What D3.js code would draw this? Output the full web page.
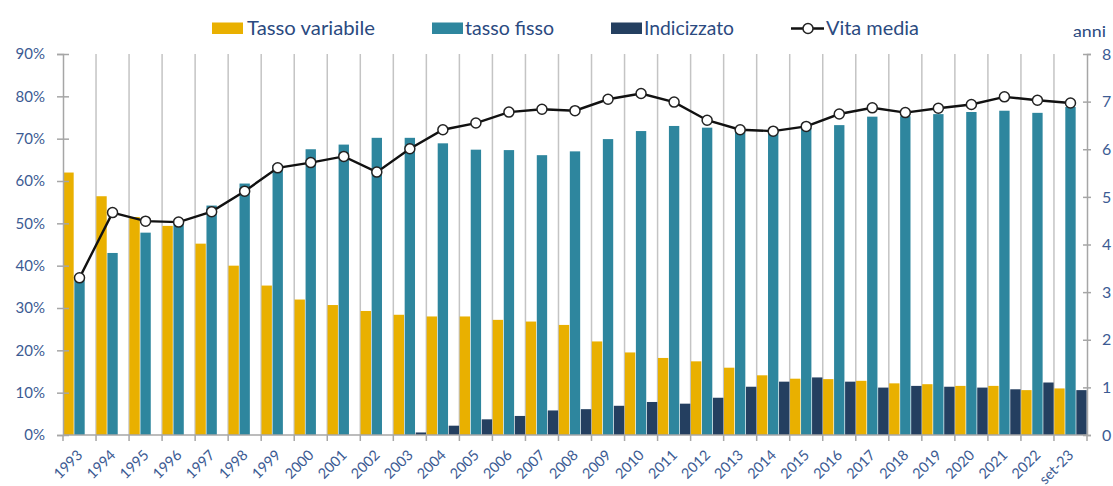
<!DOCTYPE html>
<html><head><meta charset="utf-8">
<script src="https://cdn.jsdelivr.net/npm/d3@7/dist/d3.min.js"></script>
<style>
body{margin:0;background:#fff;}
svg text{font-family:Lato,"Open Sans","DejaVu Sans",sans-serif;}
</style>
</head><body>
<svg id="chart" width="1113" height="486"></svg>
<script>
const categories = ["1993","1994","1995","1996","1997","1998","1999","2000","2001","2002","2003","2004","2005","2006","2007","2008","2009","2010","2011","2012","2013","2014","2015","2016","2017","2018","2019","2020","2021","2022","set-23"];
const tassoVariabile = [62.0,56.4,51.5,49.4,45.2,40.0,35.3,32.0,30.7,29.3,28.4,28.0,28.0,27.2,26.8,26.0,22.1,19.5,18.2,17.4,15.9,14.1,13.3,13.2,12.8,12.2,12.0,11.6,11.6,10.6,11.0];
const tassoFisso = [37.3,43.0,47.8,50.0,54.2,59.4,63.8,67.5,68.6,70.2,70.2,68.9,67.4,67.3,66.1,67.0,69.9,71.8,73.0,72.6,72.0,71.6,72.5,73.2,75.2,75.3,75.8,76.3,76.6,76.1,77.5];
const indicizzato = [0,0,0,0,0,0,0,0,0,0,0.6,2.2,3.7,4.5,5.8,6.1,6.9,7.8,7.4,8.8,11.4,12.6,13.6,12.6,11.2,11.6,11.4,11.2,10.8,12.4,10.6];
const vitaMedia = [3.3,4.67,4.49,4.47,4.69,5.12,5.61,5.72,5.85,5.52,6.01,6.41,6.55,6.78,6.84,6.81,7.05,7.17,6.99,6.61,6.41,6.38,6.48,6.74,6.87,6.77,6.86,6.94,7.10,7.03,6.97];
const leftTicks = [0,10,20,30,40,50,60,70,80,90];
const rightTicks = [0,1,2,3,4,5,6,7,8];
const seriesNames = ["Tasso variabile","tasso fisso","Indicizzato"];
const lineName = "Vita media";
const rightUnit = "anni";

const colors = {"Tasso variabile":"#E9B000","tasso fisso":"#2E869E","Indicizzato":"#243F60"};
const labelColor = "#3c5b93";
const legendColor = "#2b4a80";

const svg = d3.select("#chart");
const L = 63, R = 1087, T = 54, B = 435;

const x = d3.scaleBand().domain(categories).range([L, R]).padding(0);
const bw = x.bandwidth();
const xs = d3.scaleBand().domain(seriesNames).range([0, bw]).paddingInner(0.06).paddingOuter(0.03);
const yL = d3.scaleLinear().domain([0, 90]).range([B, T]);
const yR = d3.scaleLinear().domain([0, 8]).range([B, T]);

// vertical gridlines at category boundaries
const bounds = categories.slice(1).map(c => x(c));
svg.append("g").selectAll("line").data(bounds).join("line")
  .attr("x1", d => d).attr("x2", d => d).attr("y1", T).attr("y2", B)
  .attr("stroke", "#c4c4c4").attr("stroke-width", 1.5);

// bars
const barData = [];
categories.forEach((c, i) => {
  barData.push({c, s: "Tasso variabile", v: tassoVariabile[i]});
  barData.push({c, s: "tasso fisso", v: tassoFisso[i]});
  barData.push({c, s: "Indicizzato", v: indicizzato[i]});
});
svg.append("g").selectAll("rect").data(barData.filter(d => d.v > 0)).join("rect")
  .attr("x", d => x(d.c) + xs(d.s))
  .attr("width", xs.bandwidth())
  .attr("y", d => yL(d.v))
  .attr("height", d => B - yL(d.v))
  .attr("fill", d => colors[d.s]);

// left axis
const axL = svg.append("g").attr("transform", `translate(${L},0)`)
  .call(d3.axisLeft(yL).tickValues(leftTicks).tickFormat(d => d + "%").tickSize(6).tickPadding(12));
axL.select(".domain").attr("stroke", "#a6a6a6").attr("stroke-width", 1.5);
axL.selectAll(".tick line").attr("x1", 6).attr("x2", -6).attr("stroke", "#a6a6a6").attr("stroke-width", 1.5);
axL.selectAll(".tick text").attr("fill", labelColor).style("font-size", "15px").style("font-family", "Lato, sans-serif");

// right axis
const axR = svg.append("g").attr("transform", `translate(${R},0)`)
  .call(d3.axisRight(yR).tickValues(rightTicks).tickSize(4).tickPadding(11));
axR.select(".domain").attr("stroke", "#a6a6a6").attr("stroke-width", 1.5);
axR.selectAll(".tick line").attr("x1", -4).attr("x2", 4).attr("stroke", "#a6a6a6").attr("stroke-width", 1.5);
axR.selectAll(".tick text").attr("fill", labelColor).style("font-size", "16px").style("font-family", "Lato, sans-serif");

// x axis
svg.append("line").attr("x1", L).attr("x2", R).attr("y1", B).attr("y2", B)
  .attr("stroke", "#a6a6a6").attr("stroke-width", 1.5);
const allBounds = categories.map(c => x(c)).concat([R]);
svg.append("g").selectAll("line").data(allBounds).join("line")
  .attr("x1", d => d).attr("x2", d => d).attr("y1", B).attr("y2", B + 6)
  .attr("stroke", "#a6a6a6").attr("stroke-width", 1.5);
svg.append("g").selectAll("text").data(categories).join("text")
  .attr("transform", c => `translate(${x(c) + bw / 2 + 4},${B + 21}) rotate(-45)`)
  .attr("text-anchor", "end")
  .attr("fill", labelColor)
  .style("font-size", "14.5px")
  .text(c => c);

// line
const line = d3.line().x((d, i) => x(categories[i]) + bw / 2).y(d => yR(d));
svg.append("path").datum(vitaMedia).attr("d", line)
  .attr("fill", "none").attr("stroke", "#111").attr("stroke-width", 2.4);
svg.append("g").selectAll("circle").data(vitaMedia).join("circle")
  .attr("cx", (d, i) => x(categories[i]) + bw / 2).attr("cy", d => yR(d)).attr("r", 5)
  .attr("fill", "#fff").attr("stroke", "#222").attr("stroke-width", 1.5);

// legend
const lg = svg.append("g");
const legendItems = [
  {name: seriesNames[0], sx: 212, tx: 247, tw: 128},
  {name: seriesNames[1], sx: 432, tx: 465, tw: 89},
  {name: seriesNames[2], sx: 611, tx: 644, tw: 90}
];
legendItems.forEach(it => {
  lg.append("rect").attr("x", it.sx).attr("y", 22.5).attr("width", 31).attr("height", 11.5).attr("fill", colors[it.name]);
  lg.append("text").attr("x", it.tx).attr("y", 35).attr("fill", legendColor)
    .style("font-size", "19px").attr("textLength", it.tw).attr("lengthAdjust", "spacingAndGlyphs").text(it.name);
});
lg.append("line").attr("x1", 791).attr("x2", 824).attr("y1", 28.5).attr("y2", 28.5).attr("stroke", "#111").attr("stroke-width", 2.4);
lg.append("circle").attr("cx", 808).attr("cy", 28.5).attr("r", 5).attr("fill", "#fff").attr("stroke", "#222").attr("stroke-width", 1.5);
lg.append("text").attr("x", 826).attr("y", 35).attr("fill", legendColor)
  .style("font-size", "19px").attr("textLength", 93).attr("lengthAdjust", "spacingAndGlyphs").text(lineName);
svg.append("text").attr("x", 1073).attr("y", 37).attr("fill", legendColor)
  .style("font-size", "16px").attr("textLength", 33).attr("lengthAdjust", "spacingAndGlyphs").text(rightUnit);
</script>
</body></html>
